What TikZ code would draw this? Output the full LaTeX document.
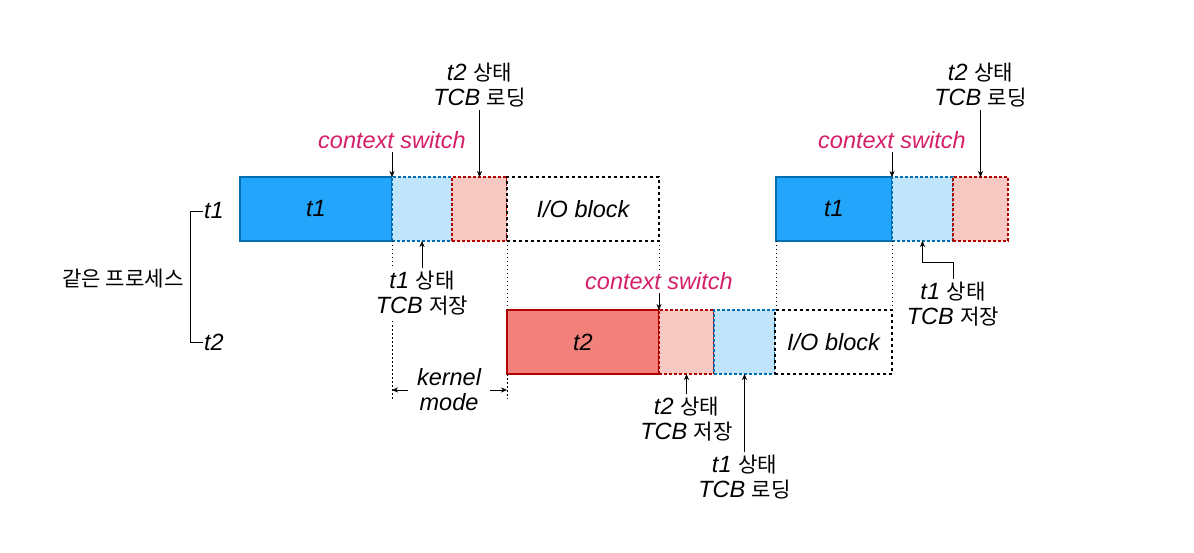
\documentclass[tikz,border=0pt]{standalone}
\usepackage{fontspec}
\setmainfont{Liberation Sans}
\newfontfamily\krfont{Noto Sans CJK KR}[Scale=0.9]
\newcommand{\kr}[1]{{\upshape\krfont #1}}
\usetikzlibrary{positioning, arrows.meta}
\definecolor{tonefill}{HTML}{23A5FB}
\definecolor{toneedge}{HTML}{006EAF}
\definecolor{savefill}{HTML}{C0E4FC}
\definecolor{ttwofill}{HTML}{F3817B}
\definecolor{ttwoedge}{HTML}{B20000}
\definecolor{pinkfill}{HTML}{F8C8C2}
\definecolor{csmag}{HTML}{D61F69}
\tikzset{
>={Stealth[length=6pt,width=5pt]}, % small filled arrow heads
every node/.style={font=\fontsize{23.5}{25}\selectfont\itshape, inner sep=3pt},
run/.style={draw, line width=1.6pt, minimum height=64pt, inner sep=0pt, outer sep=0pt}, % solid running boxes
tonerun/.style={run, draw=toneedge, fill=tonefill},
ttworun/.style={run, draw=ttwoedge, fill=ttwofill},
tcbbox/.style={draw, line width=1.6pt, dash pattern=on 3pt off 2pt, minimum height=64pt, inner sep=0pt, outer sep=0pt},
bluetcb/.style={tcbbox, draw=toneedge, fill=savefill},
pinktcb/.style={tcbbox, draw=ttwoedge, fill=pinkfill},
iobox/.style={tcbbox, draw=black, fill=white, dash pattern=on 3pt off 3pt},
guide/.style={line width=0.8pt, dash pattern=on 1.5pt off 2.5pt}, % dotted guide lines
cs/.style={text=csmag}, % context switch labels
lbl/.style={align=center, fill=white},
}
\begin{document}
\begin{tikzpicture}[x=1pt, y=-1pt]
\useasboundingbox (0,0) rectangle (1194,553);
% row of t1
\node[tonerun, minimum width=152pt, anchor=north west] (t1a) at (240,177) {t1};
\node[bluetcb, minimum width=60pt, right=0pt of t1a] (sav1) {};
\node[pinktcb, minimum width=55pt, right=0pt of sav1] (lod1) {};
\node[iobox, minimum width=152pt, right=0pt of lod1] (io1) {I/O block};
% row of t2
\node[ttworun, minimum width=152pt, anchor=north west] (t2) at (507,310) {t2};
\node[pinktcb, minimum width=55pt, right=0pt of t2] (sav2) {};
\node[bluetcb, minimum width=61pt, right=0pt of sav2] (lod2) {};
\node[iobox, minimum width=117pt, right=0pt of lod2] (io2) {I/O block};
% t1 again
\node[tonerun, minimum width=116pt, anchor=north west] (t1b) at (776,177) {t1};
\node[bluetcb, minimum width=61pt, right=0pt of t1b] (sav3) {};
\node[pinktcb, minimum width=55pt, right=0pt of sav3] (lod3) {};

% dotted guides
\draw[guide] (t1a.south east) -- ++(0,159);
\draw[guide] (lod1.south east) -- (t2.north west);
\draw[guide] (t2.south west) -- ++(0,25);
\draw[guide] (io1.south east) -- (t2.north east);
\draw[guide] (t1b.south west) -- (t1b.south west |- io2.north);
\draw[guide] (t1b.south east) -- (t1b.south east |- io2.north);

% labels and arrows
\node[cs, lbl, above=25pt of t1a.north east] (cs1) {context switch};
\node[lbl, above=67pt of lod1.north] (ld1) {t2 \kr{상태}\\TCB \kr{로딩}};
\node[lbl, below=27pt of sav1.south] (sv1) {t1 \kr{상태}\\TCB \kr{저장}};
\draw[->] (cs1) -- (t1a.north east);
\draw[->] (ld1) -- (lod1.north);
\draw[->] (sv1) -- (sav1.south);

\node[cs, lbl, above=17pt of t2.north east] (cs2) {context switch};
\node[lbl, below=20pt of sav2.south] (sv2) {t2 \kr{상태}\\TCB \kr{저장}};
\node[lbl, below=78pt of lod2.south] (ld2) {t1 \kr{상태}\\TCB \kr{로딩}};
\draw[->] (cs2) -- (t2.north east);
\draw[->] (sv2) -- (sav2.south);
\draw[->] (ld2) -- (lod2.south);

\node[cs, lbl, above=25pt of t1b.north east] (cs3) {context switch};
\node[lbl, above=67pt of lod3.north] (ld3) {t2 \kr{상태}\\TCB \kr{로딩}};
\node[lbl, below=38pt of sav3.south east] (sv3) {t1 \kr{상태}\\TCB \kr{저장}};
\draw[->] (cs3) -- (t1b.north east);
\draw[->] (ld3) -- (lod3.north);
\draw[->] (sv3.north) -- ++(0,-17) -| (sav3.south);

% kernel mode
\node[align=center] (km) at (449,390) {kernel\\mode};
\draw[->, shorten <=6pt] (km.west) -- (km.west -| t1a.east);
\draw[->, shorten <=6pt] (km.east) -- (km.east -| lod1.east);

% same process bracket
\node[inner sep=1pt] (p1) at (214,211) {t1};
\node[inner sep=1pt] (p2) at (214,342) {t2};
\node (grp) at (123,279) {\kr{같은 프로세스}};
\draw[line width=0.9pt] (p1.west) -- ++(-13,0) |- (p2.west);
\end{tikzpicture}
\end{document}
